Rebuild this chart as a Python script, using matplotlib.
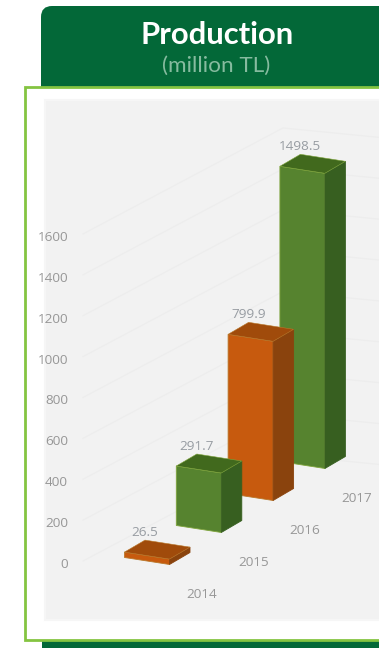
import matplotlib
matplotlib.use("Agg")
import matplotlib.pyplot as plt
from matplotlib.patches import FancyBboxPatch, Polygon, Rectangle

years = ["2014", "2015", "2016", "2017"]
production = [26.5, 291.7, 799.9, 1498.5]
value_labels = ["26.5", "291.7", "799.9", "1498.5"]
bar_families = ["orange", "green", "orange", "green"]
axis_ticks = [0, 200, 400, 600, 800, 1000, 1200, 1400, 1600]

palette = {
    "orange": {"front": "#c75a0e", "side": "#8a430d", "top": "#a04b0b", "edge": "#b9782a"},
    "green": {"front": "#56832f", "side": "#375f20", "top": "#41691d", "edge": "#7fa53c"},
}

# Oblique projection of the chart onto the page, in pixels
ORIGIN_X, ORIGIN_Y = 124.5, 557.5
STEP_X, STEP_Y = 51.8, -32.0
WIDTH_X, WIDTH_Y = 45.0, 7.0
DEPTH_X, DEPTH_Y = 20.5, -12.0
AXIS_Y0 = 563.0
AXIS_SCALE = 0.2044
BAR_SCALE = [0.204, 0.204, 0.199, 0.197]

fig = plt.figure(figsize=(3.79, 6.48), dpi=100, facecolor="white")
ax = fig.add_axes([0, 0, 1, 1])
ax.set_xlim(0, 379)
ax.set_ylim(648, 0)
ax.axis("off")

DARK = "#036838"
LIME = "#84c441"
LABEL_GREY = "#979797"

# Header tab and the strip beneath the panel
ax.add_patch(FancyBboxPatch((41, 6), 400, 110, boxstyle="round,pad=0,rounding_size=11",
                            fc=DARK, ec="none", zorder=1))
ax.add_patch(Rectangle((42, 636), 340, 12, fc=DARK, ec="none", zorder=1))

# White card with the lime outline, running off the right edge
ax.add_patch(Rectangle((25, 87), 380, 553, fc="white", ec=LIME, lw=2.0, zorder=2))
ax.add_patch(Rectangle((45, 100), 340, 520, fc="#f2f2f2", ec="#f6f6f6", lw=1.5, zorder=3))

ax.text(217, 35, "Production", color="white", fontsize=22.3, fontweight="bold",
        family="Lato", ha="center", va="center", zorder=5)
ax.text(216.5, 66, "(million TL)", color="#86bb9f", fontsize=16.2, fontweight="normal",
        family="Lato", ha="center", va="center", zorder=5)

# Gridlines across the floor direction and along the rear wall
for t in axis_ticks:
    y = AXIS_Y0 - AXIS_SCALE * t
    ax.plot([83, 283, 385], [y - 2, y - 108, y - 98], color="#ededed", lw=0.9, zorder=3.2)
    ax.text(68, y + 1.5, str(t), color=LABEL_GREY, fontsize=9.7, ha="right", va="center",
            family="Open Sans", zorder=5)

# Bars, painted from the rear to the front
for i in reversed(range(len(production))):
    c = palette[bar_families[i]]
    h = production[i] * BAR_SCALE[i]
    x0 = ORIGIN_X + STEP_X * i
    y0 = ORIGIN_Y + STEP_Y * i

    front_l = (x0, y0)
    front_r = (x0 + WIDTH_X, y0 + WIDTH_Y)
    rear_r = (front_r[0] + DEPTH_X, front_r[1] + DEPTH_Y)
    rear_l = (x0 + DEPTH_X, y0 + DEPTH_Y)

    def raised(p):
        return (p[0], p[1] - h)

    z = 4 + (3 - i) * 0.1
    ax.add_patch(Polygon([front_l, front_r, raised(front_r), raised(front_l)],
                         fc=c["front"], ec=c["edge"], lw=0.6, zorder=z))
    ax.add_patch(Polygon([front_r, rear_r, raised(rear_r), raised(front_r)],
                         fc=c["side"], ec=c["side"], lw=0.6, zorder=z))
    ax.add_patch(Polygon([raised(front_l), raised(front_r), raised(rear_r), raised(rear_l)],
                         fc=c["top"], ec=c["edge"], lw=0.4, zorder=z))

    ax.text(rear_l[0], rear_l[1] - h - 7.5, value_labels[i], color="#979ca2", fontsize=9.7,
            ha="center", va="center", family="Open Sans", zorder=5)
    ax.text(x0 + 77, y0 + 37, years[i], color=LABEL_GREY, fontsize=9.7,
            ha="center", va="center", family="Open Sans", zorder=5)

fig.savefig("out.png", dpi=100)
